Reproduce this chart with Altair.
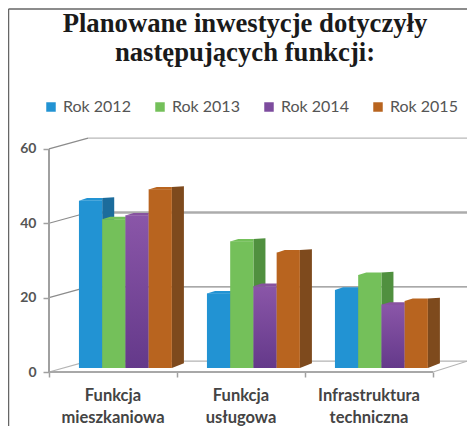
import altair as alt
import pandas as pd

categories = ["Funkcja\nmieszkaniowa", "Funkcja\nusługowa", "Infrastruktura\ntechniczna"]
series_names = ["Rok 2012", "Rok 2013", "Rok 2014", "Rok 2015"]
rok_2012 = [45, 20, 21]
rok_2013 = [40, 34, 25]
rok_2014 = [41, 22, 17]
rok_2015 = [48, 31, 18]
y_ticks = [0, 20, 40, 60]
wall_levels = [20, 40, 60]
front_colors = ["#2293d3", "#74c05a", "#7d4c9e", "#b8641f"]
side_colors = ["#1c6c9c", "#50903f", "#58387a", "#7e4a1d"]
values = [rok_2012, rok_2013, rok_2014, rok_2015]

# geometry of the pseudo-3D box, in data units
BASE = 1.08
BAR_W = 0.1815
START = 0.234
SIDE_DX = 0.094
SIDE_TOP = 0.7
SIDE_BOT = 1.3
DEPTH_X = 0.305
DEPTH_Y = 2.9
XMAX = 418 / 128
YMAX = 63.2

xs = alt.Scale(domain=[0, XMAX], nice=False, zero=False)
ys = alt.Scale(domain=[0, YMAX], nice=False)
X = alt.X("x:Q", scale=xs, axis=alt.Axis(values=[0, 1, 2, 3], labels=False, title=None, domain=False, grid=False,
                                         tickColor="#a0a0a0", tickSize=5, tickWidth=1.5))
Y = alt.Y("y:Q", scale=ys, axis=alt.Axis(values=y_ticks, title=None, domain=False, grid=False, tickColor="#a0a0a0",
                                         tickSize=6, tickWidth=1.5, labelFont="Lato", labelFontWeight="bold",
                                         labelFontSize=14, labelColor="#555555", labelPadding=7))

bars, sides, tops = [], [], []
for s, name in enumerate(series_names):
    for g, v in enumerate(values[s]):
        x0 = g + START + s * BAR_W
        x1 = x0 + BAR_W
        k = f"{s}-{g}"
        bars.append(dict(s=s, series=name, x=x0, x2=x1, y=v + BASE, y2=BASE))
        sides += [
            dict(s=s, k=k, x=x1, y=v + BASE + SIDE_TOP, y2=BASE),
            dict(s=s, k=k, x=x1 + SIDE_DX, y=v + BASE + SIDE_TOP + 0.2, y2=BASE + SIDE_BOT),
        ]
        tops += [
            dict(s=s, k=k, x=x0, y=v + BASE, y2=v + BASE - 0.05),
            dict(s=s, k=k, x=x0 + BAR_W * 0.35, y=v + BASE + SIDE_TOP, y2=v + BASE - 0.05),
            dict(s=s, k=k, x=x1, y=v + BASE + SIDE_TOP, y2=v + BASE - 0.05),
        ]
bars = pd.DataFrame(bars)
sides = pd.DataFrame(sides)
tops = pd.DataFrame(tops)

walls = []
slants = []
for lv in wall_levels:
    slants += [dict(l=lv, x=0, y=lv), dict(l=lv, x=DEPTH_X, y=lv + DEPTH_Y)]
    walls += [dict(l=lv, x=DEPTH_X, y=lv + DEPTH_Y), dict(l=lv, x=XMAX, y=lv + DEPTH_Y)]
walls = pd.DataFrame(walls)
slants = pd.DataFrame(slants)
wall_style = {20: (1.3, "#8c8c8c"), 40: (2.4, "#acacac"), 60: (1.3, "#b8b8b8")}

layers = []
# frame
frame = pd.DataFrame({"a": [0]})
layers.append(alt.Chart(frame).mark_rule(color="#666666", strokeWidth=1.5).encode(
    x=alt.value(-40.5), y=alt.value(-128), y2=alt.value(289)))
layers.append(alt.Chart(frame).mark_rule(color="#666666", strokeWidth=1.5).encode(
    x=alt.value(-40.5), x2=alt.value(418), y=alt.value(-128)))
# walls
layers.append(alt.Chart(slants).mark_line(color="#8c8c8c", strokeWidth=1.2).encode(x=X, y=Y, detail="l:N"))
for lv in wall_levels:
    w, c = wall_style[lv]
    layers.append(alt.Chart(walls[walls.l == lv]).mark_line(color=c, strokeWidth=w).encode(x=X, y=Y))
# floor
floor = pd.DataFrame([dict(x=0, y=0), dict(x=DEPTH_X, y=DEPTH_Y), dict(x=XMAX, y=DEPTH_Y)])
layers.append(alt.Chart(floor).mark_line(color="#b4b4b4", strokeWidth=1.2).encode(x=X, y=Y))
floor2 = pd.DataFrame([dict(x=3, y=0), dict(x=XMAX, y=DEPTH_Y)])
layers.append(alt.Chart(floor2).mark_line(color="#b4b4b4", strokeWidth=1.2).encode(x=X, y=Y))
# axes lines
layers.append(alt.Chart(pd.DataFrame(dict(x=[0], x2=[3], y=[0]))).mark_rule(color="#a8a8a8", strokeWidth=2).encode(
    x=X, x2="x2:Q", y=Y))
layers.append(alt.Chart(pd.DataFrame(dict(x=[0], y=[0], y2=[60]))).mark_rule(color="#a0a0a0", strokeWidth=2).encode(
    x=X, y=Y, y2="y2:Q"))

color = alt.Color("series:N", scale=alt.Scale(domain=series_names, range=front_colors),
                  legend=alt.Legend(orient="none", legendX=-6, legendY=-38, direction="horizontal", title=None,
                                    symbolType="square", symbolSize=90, symbolStrokeWidth=0, labelFont="Lato",
                                    labelFontSize=16, labelColor="#555555", labelOffset=4, columnPadding=21,
                                    labelLimit=120))
for s, name in enumerate(series_names):
    layers.append(alt.Chart(sides[sides.s == s]).mark_area(color=side_colors[s]).encode(
        x=X, y=Y, y2="y2:Q", detail="k:N"))
    layers.append(alt.Chart(tops[tops.s == s]).mark_area(
        color=front_colors[s] if s != 2 else "#87529f").encode(x=X, y=Y, y2="y2:Q", detail="k:N"))
    b = bars[bars.s == s]
    if s == 2:
        layers.append(alt.Chart(b).mark_bar(color=alt.Gradient(
            gradient="linear", x1=0, y1=0, x2=0, y2=1,
            stops=[alt.GradientStop(color="#8a56a8", offset=0), alt.GradientStop(color="#64398a", offset=1)])).encode(
            x=X, x2="x2:Q", y=Y, y2="y2:Q"))
    else:
        layers.append(alt.Chart(b).mark_bar().encode(x=X, x2="x2:Q", y=Y, y2="y2:Q", color=color))
layers.append(alt.Chart(bars[bars.s == 2]).mark_bar(opacity=0).encode(x=X, x2="x2:Q", y=Y, y2="y2:Q", color=color))

labels = pd.DataFrame({"x": [0.5, 1.5, 2.5], "t": categories})
layers.append(alt.Chart(labels).mark_text(font="Lato", fontWeight="bold", fontSize=16.5, color="#444444",
                                          lineBreak="\n", lineHeight=22, align="center", baseline="alphabetic").encode(
    x=X, y=alt.value(264), text="t:N"))

chart = alt.layer(*layers).resolve_scale(color="shared").properties(
    width=418, height=235,
    padding={"left": 41, "top": 129, "right": 0, "bottom": 54},
    autosize=alt.AutoSizeParams(type="none"),
    title=alt.TitleParams(text=["Planowane inwestycje dotyczyły", "następujących funkcji:"], font="Liberation Serif",
                          fontWeight="bold", fontSize=26.7, lineHeight=28.5, color="#1a1a1a", anchor="middle",
                          dx=-13, offset=-58),
).configure_view(stroke=None)
chart.save("out.html", embed_options={"renderer": "svg", "actions": False})
